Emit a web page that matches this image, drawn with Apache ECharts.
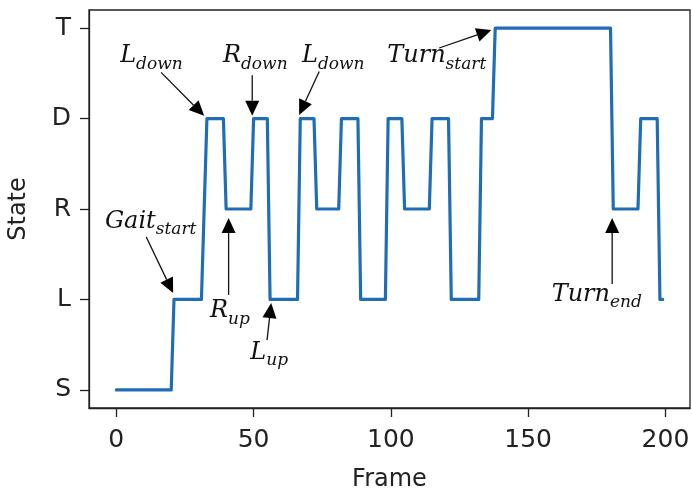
<!DOCTYPE html>
<html><head><meta charset="utf-8">
<script src="https://cdn.jsdelivr.net/npm/echarts@6/dist/echarts.min.js"></script>
<style>html,body{margin:0;padding:0;background:#fff}#c{width:692px;height:492px}</style>
</head><body><div id="c"></div>
<script>
// ---- data ----
const stateLabels = ['S', 'L', 'R', 'D', 'T'];
const xTicks = [0, 50, 100, 150, 200];
const yTicks = [0, 1, 2, 3, 4];
// corner points of the state trace (frame, state index)
const frames = [0,20,21,31,33,39,40,49,50,55,56,66,67,72,73,81,82,88,89,98,99,104,105,114,115,121,122,132,133,137,138,180,181,190,191,197,198,199];
const states = [0,0,1,1,3,3,2,2,3,3,1,1,3,3,2,2,3,3,1,1,3,3,2,2,3,3,1,1,3,3,4,4,2,2,3,3,1,1];
// annotations
const annoMain = ['L', 'R', 'L', 'Turn', 'Gait', 'R', 'L', 'Turn'];
const annoSub  = ['down', 'down', 'down', 'start', 'start', 'up', 'up', 'end'];
const annoTextX = [12.8, 50.6, 79.0, 116.7, 12.5, 41.4, 55.7, 175.0];
const annoTextY = [3.69, 3.69, 3.69, 3.69, 1.86, 0.87, 0.41, 1.05];
const annoFromX = [16.3, 49.5, 73.9, 117.6, 10.9, 40.9, 54.9, 180.6];
const annoFromY = [3.51, 3.48, 3.52, 3.78, 1.69, 1.05, 0.55, 1.17];
const annoTipX  = [32.0, 49.5, 66.6, 136.6, 20.7, 40.9, 56.4, 180.6];
const annoTipY  = [3.03, 3.03, 3.04, 3.98, 1.07, 1.90, 0.96, 1.90];

const lineData = frames.map((f, i) => [f, states[i]]);
const annoIdx = annoMain.map((_, i) => [annoTipX[i], annoTipY[i], i]);

const MAIN_FONT = 'italic 24px "DejaVu Serif"';
const SUB_FONT = 'italic 17px "DejaVu Serif"';
const ctx = document.createElement('canvas').getContext('2d');
function tw(font, s) { ctx.font = font; return ctx.measureText(s).width; }

const chart = echarts.init(document.getElementById('c'));
chart.setOption({
  animation: false,
  backgroundColor: '#fff',
  grid: { left: 89, right: 2, top: 10, bottom: 84, show: true, borderColor: '#222', borderWidth: 1.3, containLabel: false, outerBoundsMode: 'none' },
  xAxis: {
    type: 'value', min: -9.95, max: 208.95,
    name: 'Frame', nameLocation: 'middle', nameGap: 60,
    nameTextStyle: { fontFamily: 'DejaVu Sans', fontSize: 24, color: '#222' },
    axisLine: { show: true, onZero: false, lineStyle: { color: '#222', width: 1.3 } },
    axisTick: { show: true, length: 9, customValues: xTicks, lineStyle: { color: '#222', width: 1.3 } },
    axisLabel: { customValues: xTicks, fontFamily: 'DejaVu Sans', fontSize: 25, color: '#222', margin: 20 },
    splitLine: { show: false }
  },
  yAxis: {
    type: 'value', min: -0.2, max: 4.2,
    name: 'State', nameLocation: 'middle', nameGap: 58,
    nameTextStyle: { fontFamily: 'DejaVu Sans', fontSize: 24, color: '#222' },
    axisLine: { show: true, onZero: false, lineStyle: { color: '#222', width: 1.3 } },
    axisTick: { show: true, length: 9, customValues: yTicks, lineStyle: { color: '#222', width: 1.3 } },
    axisLabel: { customValues: yTicks, formatter: v => stateLabels[v], fontFamily: 'DejaVu Sans', fontSize: 25, color: '#222', margin: 18 },
    splitLine: { show: false }
  },
  series: [
    {
      type: 'line', data: lineData, showSymbol: false, symbol: 'none',
      lineStyle: { color: '#1f6eb3', width: 3.2, join: 'round', cap: 'round' },
      z: 2
    },
    {
      type: 'custom', data: annoIdx, z: 5, silent: true,
      renderItem: function (params, api) {
        const i = params.dataIndex;
        const p0 = api.coord([annoFromX[i], annoFromY[i]]);
        const p1 = api.coord([annoTipX[i], annoTipY[i]]);
        const c = api.coord([annoTextX[i], annoTextY[i]]);
        let dx = p1[0] - p0[0], dy = p1[1] - p0[1];
        const L = Math.hypot(dx, dy); dx /= L; dy /= L;
        const hl = 15, hw = 7;
        const bx = p1[0] - dx * hl, by = p1[1] - dy * hl;
        const px = -dy, py = dx;
        const wm = tw(MAIN_FONT, annoMain[i]);
        const ws = tw(SUB_FONT, annoSub[i]);
        const left = c[0] - (wm + ws) / 2;
        return {
          type: 'group',
          children: [
            { type: 'line', shape: { x1: p0[0], y1: p0[1], x2: bx, y2: by }, style: { stroke: '#111', lineWidth: 1.3 } },
            { type: 'polygon', shape: { points: [[p1[0], p1[1]], [bx + px * hw, by + py * hw], [bx - px * hw, by - py * hw]] }, style: { fill: '#000' } },
            { type: 'text', x: left, y: c[1], style: { text: annoMain[i], font: MAIN_FONT, fill: '#111', align: 'left', verticalAlign: 'middle' } },
            { type: 'text', x: left + wm, y: c[1] + 8, style: { text: annoSub[i], font: SUB_FONT, fill: '#111', align: 'left', verticalAlign: 'middle' } }
          ]
        };
      }
    }
  ]
});
</script>
</body></html>
